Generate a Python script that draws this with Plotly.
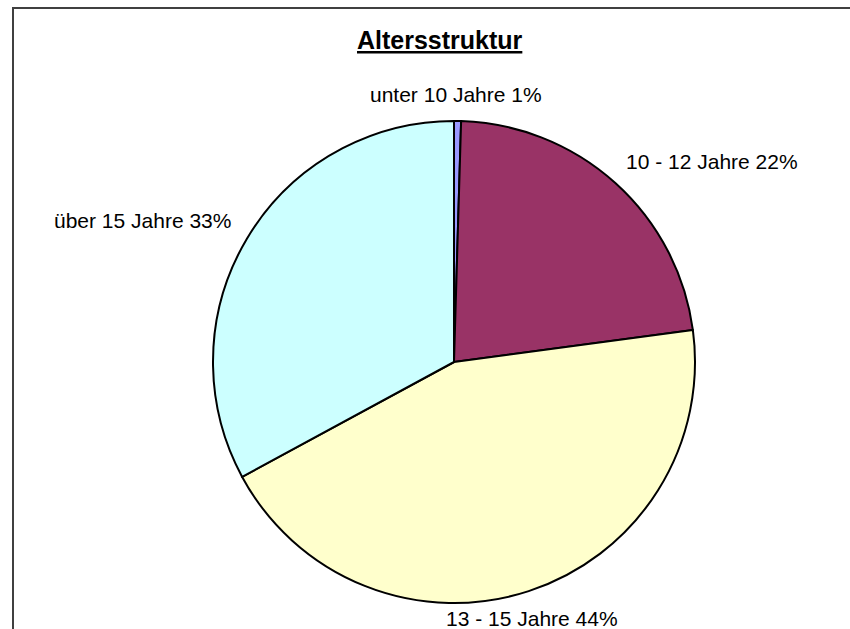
import plotly.graph_objects as go

W, H = 850, 629

categories = ["unter 10 Jahre", "10 - 12 Jahre", "13 - 15 Jahre", "über 15 Jahre"]
values = [0.47, 22.4, 44.2, 32.9]
pct_labels = ["1%", "22%", "44%", "33%"]
colors = ["#9999FF", "#993366", "#FFFFCC", "#CCFFFF"]

# label centre positions in pixels (layout only)
label_pos = [(456, 95), (712, 161), (532, 618), (142, 220)]

cx, cy, r = 454, 362, 241

fig = go.Figure(go.Pie(
    labels=categories,
    values=values,
    sort=False,
    direction="clockwise",
    rotation=0,
    marker=dict(colors=colors, line=dict(color="#000000", width=2)),
    textinfo="none",
    hoverinfo="label+percent",
    domain=dict(x=[(cx - r) / W, (cx + r) / W],
                y=[(H - cy - r) / H, (H - cy + r) / H]),
    showlegend=False,
))

font = "Liberation Sans, Arial, sans-serif"
ann = []
for cat, p, (px, py) in zip(categories, pct_labels, label_pos):
    ann.append(dict(x=px / W, y=1 - py / H, xref="paper", yref="paper",
                    text=f"{cat} {p}", showarrow=False,
                    xanchor="center", yanchor="middle",
                    font=dict(family=font, size=21, color="#000000")))
ann.append(dict(x=440 / W, y=1 - 40 / H, xref="paper", yref="paper",
                text="<b><u>Altersstruktur</u></b>", showarrow=False,
                xanchor="center", yanchor="middle",
                font=dict(family=font, size=25, color="#000000")))

fig.update_layout(
    width=W, height=H,
    margin=dict(l=0, r=0, t=0, b=0),
    paper_bgcolor="#FFFFFF",
    plot_bgcolor="#FFFFFF",
    annotations=ann,
    shapes=[dict(type="rect", xref="paper", yref="paper",
                 x0=13 / W, y0=1 - 8 / H, x1=1.05, y1=-0.05,
                 line=dict(color="#404040", width=2))],
)

fig.write_html("out.html",
               config={"displayModeBar": False},
               post_script="document.body.style.margin='0';document.body.style.overflow='hidden';")
